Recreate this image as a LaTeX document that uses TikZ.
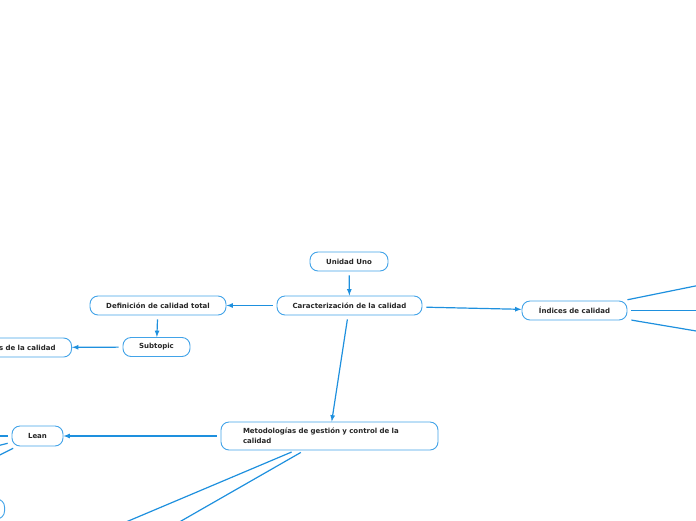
\documentclass[tikz,border=0pt]{standalone}
\usepackage{fontspec}
\setmainfont{DejaVu Sans}
\usetikzlibrary{positioning}
\definecolor{mapblue}{RGB}{30,144,222}
\definecolor{boxblue}{RGB}{66,163,232}

\begin{document}
\begin{tikzpicture}[x=1pt,y=-1pt,
  topic/.style={rectangle,rounded corners=8pt,draw=boxblue,line width=0.9pt,fill=white,minimum height=19pt,inner xsep=10pt,font=\fontsize{7}{10}\selectfont\bfseries,text=black!85},
  branch/.style={draw=mapblue,line width=1.2pt,shorten <=4pt},
  ]

\useasboundingbox (0,0) rectangle (696,520);
\clip (0,0) rectangle (696,520);

\node (u) [topic,minimum width=78pt] at (349,261.5) {Unidad Uno};

\node (c) [topic,minimum width=145pt] at (349.5,305.5) {Caracterización de la calidad};

\node (d) [topic,minimum width=136pt] at (158,305.5) {Definición de calidad total};

\node (s) [topic,minimum width=67pt] at (156.5,347) {Subtopic};

\node (k) [topic,anchor=east,inner xsep=16pt,text width=84pt,align=right] at (72,347.5) {s de la calidad};

\node (i) [topic,minimum width=105pt] at (574.5,310.5) {Índices de calidad};

\node (m) [topic,minimum height=28pt,inner xsep=22pt,text width=173pt,align=left] at (329.5,436) {Metodologías de gestión y control de la\\calidad};

\node (l) [topic,minimum width=51pt,minimum height=20pt] at (37.5,436) {Lean};

\node (g) [topic,anchor=east,minimum width=60pt,minimum height=20pt] at (5,509) {};

\coordinate (i1) at (720,281);
\coordinate (i2) at (720,310.5);
\coordinate (i3) at (720,335);
\coordinate (m1) at (36,560);
\coordinate (m2) at (113,560);
\coordinate (l1) at (-40,436);
\coordinate (l2) at (-40,455);
\coordinate (l3) at (-40,475);

\draw[branch,-latex] (u) -- (c);
\draw[branch,-latex] (c) -- (d);
\draw[branch,-latex] (c) -- (i);
\draw[branch,-latex] (c) -- (m);
\draw[branch,-latex] (d) -- (s);
\draw[branch,-latex] (s) -- (k);
\draw[branch,-latex] (m) -- (l);

\draw[branch] (i) -- (i1);
\draw[branch] (i) -- (i2);
\draw[branch] (i) -- (i3);
\draw[branch] (m) -- (m1);
\draw[branch] (m) -- (m2);
\draw[branch] (l) -- (l1);
\draw[branch] (l) -- (l2);
\draw[branch] (l) -- (l3);

\end{tikzpicture}
\end{document}
